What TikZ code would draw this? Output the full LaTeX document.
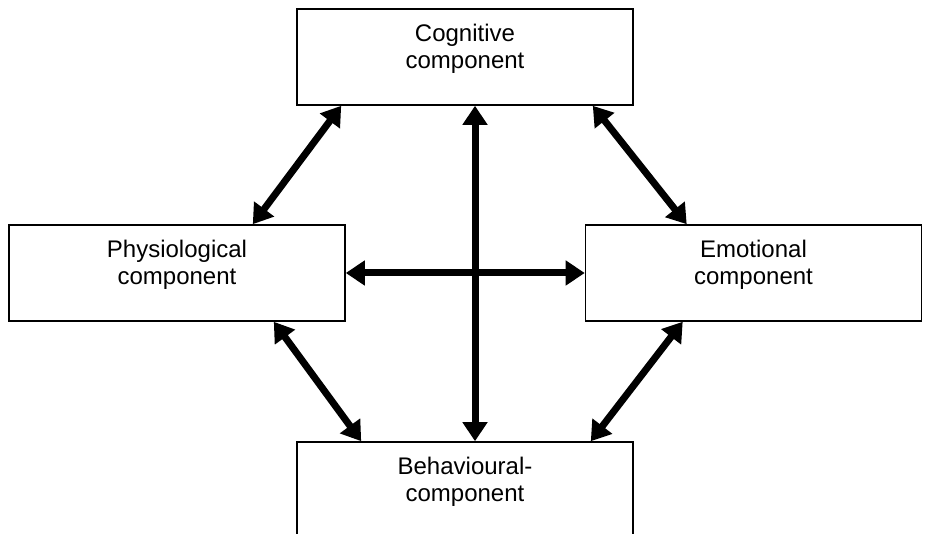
\documentclass[tikz,border=0pt]{standalone}
\usepackage{fontspec}
\setmainfont{Liberation Sans}
\usetikzlibrary{arrows.meta}
\begin{document}
\begin{tikzpicture}[x=1pt,y=-1pt,
  comp/.style={draw, line width=1.6pt, minimum width=336pt, minimum height=96pt,
    align=center, text depth=21pt, font=\fontsize{24}{26.5}\selectfont},
  link/.style={line width=7pt,
    {Triangle[width=24pt,length=19pt]}-{Triangle[width=24pt,length=19pt]}}]
\useasboundingbox (0,0) rectangle (926,534);
\node[comp] (cog) at (465,57) {Cognitive\\component};
\node[comp] (phys) at (177,273) {Physiological\\component};
\node[comp] (emo) at (753.5,273) {Emotional\\component};
\node[comp] (beh) at (465,490) {Behavioural-\\component};
\draw[link] ([xshift=10pt]cog.south) -- ([xshift=10pt]beh.north);
\draw[link] (phys.east) -- (emo.west);
\draw[link] ([xshift=45pt]cog.south west) -- ([xshift=-93pt]phys.north east);
\draw[link] ([xshift=-41pt]cog.south east) -- ([xshift=102pt]emo.north west);
\draw[link] ([xshift=-72pt]phys.south east) -- ([xshift=65pt]beh.north west);
\draw[link] ([xshift=98pt]emo.south west) -- ([xshift=-43pt]beh.north east);
\end{tikzpicture}
\end{document}
